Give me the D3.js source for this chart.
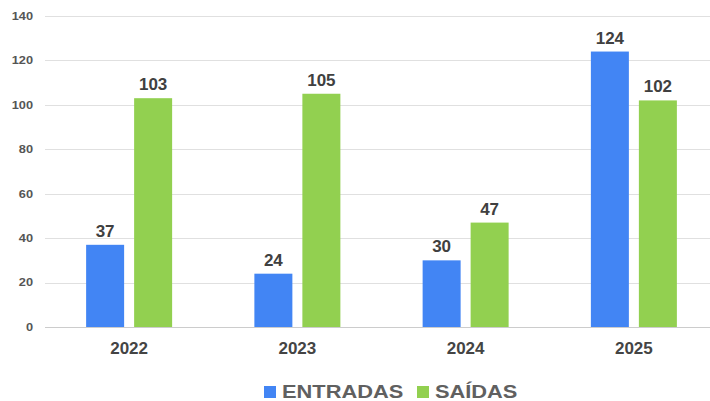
<!DOCTYPE html>
<html>
<head>
<meta charset="utf-8">
<script src="https://cdn.jsdelivr.net/npm/d3@7"></script>
<style>
body{margin:0;background:#fff;}
svg{display:block;font-family:"Liberation Sans",Arial,sans-serif;}
</style>
</head>
<body>
<svg id="chart" width="710" height="401"></svg>
<script>
const categories = ["2022","2023","2024","2025"];
const seriesNames = ["ENTRADAS","SAÍDAS"];
const entradas = [37,24,30,124];
const saidas = [103,105,47,102];
const yTicks = [0,20,40,60,80,100,120,140];
const colors = ["#4285f4","#92d050"];

const svg = d3.select("#chart");
const mLeft = 45, mRight = 718, mTop = 16, mBottom = 327;

const x = d3.scaleBand().domain(categories).range([mLeft,mRight]).paddingInner(0).paddingOuter(0);
const xs = d3.scaleBand().domain(seriesNames).range([x.bandwidth()/2-43, x.bandwidth()/2+43]).paddingInner(10/48).paddingOuter(0);
const y = d3.scaleLinear().domain([0,140]).range([mBottom,mTop]);

// gridlines
svg.append("g").selectAll("line").data(yTicks).join("line")
  .attr("x1",mLeft).attr("x2",710)
  .attr("y1",d=>Math.round(y(d))+0.5).attr("y2",d=>Math.round(y(d))+0.5)
  .attr("stroke",d=>d===0?"#cccccc":"#e0e0e0").attr("stroke-width",1);

// y tick labels
svg.append("g").selectAll("text").data(yTicks).join("text")
  .attr("transform",d=>`translate(33,${y(d)}) scale(1.16,1)`)
  .attr("dy","0.35em")
  .attr("text-anchor","end").attr("font-size",11).attr("font-weight","bold")
  .attr("fill","#555").text(d=>d);

const data = categories.map((c,i)=>({cat:c, vals:[{s:seriesNames[0],v:entradas[i],k:0},{s:seriesNames[1],v:saidas[i],k:1}]}));

const g = svg.append("g").selectAll("g").data(data).join("g")
  .attr("transform",d=>`translate(${x(d.cat)},0)`);

g.selectAll("rect").data(d=>d.vals).join("rect")
  .attr("x",d=>xs(d.s)).attr("width",xs.bandwidth())
  .attr("y",d=>y(d.v)).attr("height",d=>y(0)-y(d.v))
  .attr("fill",d=>colors[d.k]);

g.selectAll("text.val").data(d=>d.vals).join("text")
  .attr("class","val")
  .attr("x",d=>xs(d.s)+xs.bandwidth()/2).attr("y",d=>y(d.v)-8)
  .attr("text-anchor","middle").attr("font-size",17).attr("font-weight","bold")
  .attr("fill","#404040").text(d=>d.v);

// x labels
svg.append("g").selectAll("text").data(categories).join("text")
  .attr("x",d=>x(d)+x.bandwidth()/2).attr("y",354)
  .attr("text-anchor","middle").attr("font-size",17).attr("font-weight","bold")
  .attr("fill","#444").text(d=>d);

// legend
const legX = [264,417];
const leg = svg.append("g").selectAll("g").data(seriesNames).join("g")
  .attr("transform",(d,i)=>`translate(${legX[i]},386)`);
leg.append("rect").attr("width",12).attr("height",12).attr("fill",(d,i)=>colors[i]);
leg.append("text").attr("transform","translate(18,11.5) scale(1.18,1)")
  .attr("font-size",18.5).attr("font-weight","bold")
  .attr("fill","#606060").text(d=>d);
</script>
</body>
</html>
